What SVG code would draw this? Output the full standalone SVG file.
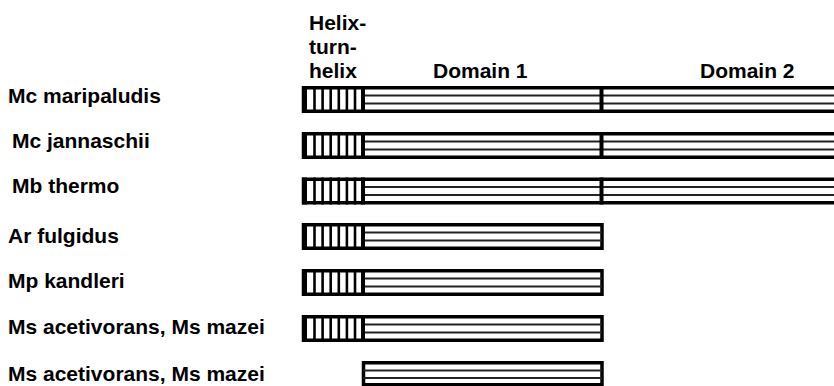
<svg xmlns="http://www.w3.org/2000/svg" width="834" height="386" viewBox="0 0 834 386">
  <defs>
    <style>
      .t { font-family: "Liberation Sans", Arial, sans-serif; font-weight: bold; font-size: 21px; fill: #000; }
      .frame { fill: #fff; stroke: #000; stroke-width: 3.5; }
      .div { stroke: #000; stroke-width: 4; }
      .edge { stroke: #000; stroke-width: 5; }
      .hl { stroke: #222; stroke-width: 1.8; }
      .vl { stroke: #000; stroke-width: 2.6; }
    </style>
    <!-- helix-turn-helix block: vertical stripes, local x from 0 -->
    <g id="hth">
      <line class="vl" x1="12.5" y1="0" x2="12.5" y2="27"/>
      <line class="vl" x1="20.6" y1="0" x2="20.6" y2="27"/>
      <line class="vl" x1="28.7" y1="0" x2="28.7" y2="27"/>
      <line class="vl" x1="36.8" y1="0" x2="36.8" y2="27"/>
      <line class="vl" x1="44.9" y1="0" x2="44.9" y2="27"/>
      <line class="vl" x1="53" y1="0" x2="53" y2="27"/>
    </g>
  </defs>
  <rect width="834" height="386" fill="#fff"/>

  <!-- column headers -->
  <g id="headers">
    <text class="t" x="309" y="30">Helix-</text>
    <text class="t" x="309" y="54">turn-</text>
    <text class="t" x="309" y="78">helix</text>
    <text class="t" x="433" y="78">Domain 1</text>
    <text class="t" x="700" y="78">Domain 2</text>
  </g>

  <!-- Mc maripaludis: HTH + domain 1 + domain 2 -->
  <g id="row1">
    <text class="t" x="8" y="103">Mc maripaludis</text>
    <g transform="translate(0,86)">
      <rect class="frame" x="303.5" y="1.75" width="540" height="23.5"/>
      <line class="hl" x1="363" y1="9.5" x2="834" y2="9.5"/>
      <line class="hl" x1="363" y1="17.5" x2="834" y2="17.5"/>
      <use href="#hth" x="302"/>
      <line class="edge" x1="304.5" y1="0" x2="304.5" y2="27"/>
      <line class="div" x1="363" y1="0" x2="363" y2="27"/>
      <line class="div" x1="601.5" y1="0" x2="601.5" y2="27"/>
    </g>
  </g>

  <!-- Mc jannaschii -->
  <g id="row2">
    <text class="t" x="12" y="148">Mc jannaschii</text>
    <g transform="translate(0,132)">
      <rect class="frame" x="303.5" y="1.75" width="540" height="23.5"/>
      <line class="hl" x1="363" y1="9.5" x2="834" y2="9.5"/>
      <line class="hl" x1="363" y1="17.5" x2="834" y2="17.5"/>
      <use href="#hth" x="302"/>
      <line class="edge" x1="304.5" y1="0" x2="304.5" y2="27"/>
      <line class="div" x1="363" y1="0" x2="363" y2="27"/>
      <line class="div" x1="601.5" y1="0" x2="601.5" y2="27"/>
    </g>
  </g>

  <!-- Mb thermo -->
  <g id="row3">
    <text class="t" x="12" y="193">Mb thermo</text>
    <g transform="translate(0,177.5)">
      <rect class="frame" x="303.5" y="1.75" width="540" height="23.5"/>
      <line class="hl" x1="363" y1="9.5" x2="834" y2="9.5"/>
      <line class="hl" x1="363" y1="17.5" x2="834" y2="17.5"/>
      <use href="#hth" x="302"/>
      <line class="edge" x1="304.5" y1="0" x2="304.5" y2="27"/>
      <line class="div" x1="363" y1="0" x2="363" y2="27"/>
      <line class="div" x1="601.5" y1="0" x2="601.5" y2="27"/>
    </g>
  </g>

  <!-- Ar fulgidus: HTH + domain 1 -->
  <g id="row4">
    <text class="t" x="8" y="243">Ar fulgidus</text>
    <g transform="translate(0,223)">
      <rect class="frame" x="303.5" y="1.75" width="298.5" height="23.5"/>
      <line class="hl" x1="363" y1="9.5" x2="602" y2="9.5"/>
      <line class="hl" x1="363" y1="17.5" x2="602" y2="17.5"/>
      <use href="#hth" x="302"/>
      <line class="edge" x1="304.5" y1="0" x2="304.5" y2="27"/>
      <line class="div" x1="363" y1="0" x2="363" y2="27"/>
    </g>
  </g>

  <!-- Mp kandleri -->
  <g id="row5">
    <text class="t" x="8" y="288">Mp kandleri</text>
    <g transform="translate(0,269)">
      <rect class="frame" x="303.5" y="1.75" width="298.5" height="23.5"/>
      <line class="hl" x1="363" y1="9.5" x2="602" y2="9.5"/>
      <line class="hl" x1="363" y1="17.5" x2="602" y2="17.5"/>
      <use href="#hth" x="302"/>
      <line class="edge" x1="304.5" y1="0" x2="304.5" y2="27"/>
      <line class="div" x1="363" y1="0" x2="363" y2="27"/>
    </g>
  </g>

  <!-- Ms acetivorans, Ms mazei (with HTH) -->
  <g id="row6">
    <text class="t" x="8" y="334">Ms acetivorans, Ms mazei</text>
    <g transform="translate(0,315)">
      <rect class="frame" x="303.5" y="1.75" width="298.5" height="23.5"/>
      <line class="hl" x1="363" y1="9.5" x2="602" y2="9.5"/>
      <line class="hl" x1="363" y1="17.5" x2="602" y2="17.5"/>
      <use href="#hth" x="302"/>
      <line class="edge" x1="304.5" y1="0" x2="304.5" y2="27"/>
      <line class="div" x1="363" y1="0" x2="363" y2="27"/>
    </g>
  </g>

  <!-- Ms acetivorans, Ms mazei (domain 1 only) -->
  <g id="row7">
    <text class="t" x="8" y="381">Ms acetivorans, Ms mazei</text>
    <g transform="translate(0,361)">
      <rect class="frame" x="363.5" y="1.75" width="238.5" height="22"/>
      <line class="hl" x1="363" y1="9.5" x2="602" y2="9.5"/>
      <line class="hl" x1="363" y1="17" x2="602" y2="17"/>
    </g>
  </g>
</svg>
